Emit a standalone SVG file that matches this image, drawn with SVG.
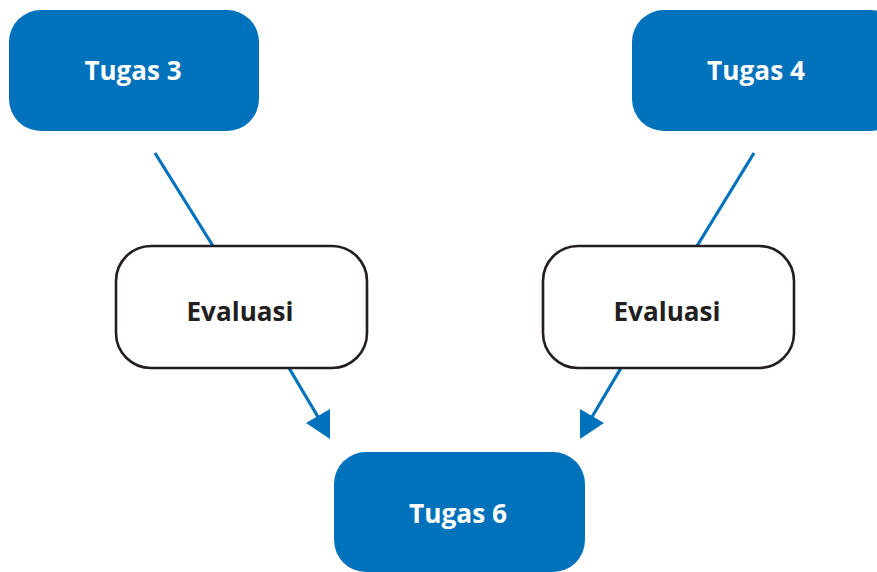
<svg xmlns="http://www.w3.org/2000/svg" width="877" height="572" viewBox="0 0 877 572">
<style>
.task{fill:#0071bb;}
.eval{fill:#ffffff;stroke:#231f20;stroke-width:2.6;}
.lt{font-family:"Open Sans","Liberation Sans",sans-serif;font-weight:bold;font-size:27.5px;text-anchor:middle;}
.w{fill:#ffffff;}
.k{fill:#231f20;}
.conn{stroke:#0071bb;stroke-width:3.2;fill:none;}
.head{fill:#0071bb;}
</style>
<rect width="877" height="572" fill="#ffffff"/>
<g id="connectors">
<line class="conn" x1="155" y1="153" x2="213" y2="246"/>
<line class="conn" x1="754" y1="153" x2="697" y2="246"/>
<line class="conn" x1="289" y1="368" x2="321" y2="422"/>
<polygon class="head" points="306,423 330,409 330,439"/>
<line class="conn" x1="621" y1="368" x2="589" y2="422"/>
<polygon class="head" points="604,423 580,409 580,439"/>
</g>
<g id="tugas3">
<rect class="task" x="9" y="10" width="250" height="121" rx="32"/>
<text class="lt w" x="133" y="80" textLength="97" lengthAdjust="spacingAndGlyphs">Tugas 3</text>
</g>
<g id="tugas4">
<rect class="task" x="632" y="10" width="270" height="121" rx="32"/>
<text class="lt w" x="756" y="80" textLength="98" lengthAdjust="spacingAndGlyphs">Tugas 4</text>
</g>
<g id="evaluasi1">
<rect class="eval" x="116" y="246" width="251" height="122" rx="35"/>
<text class="lt k" x="240" y="321" textLength="107" lengthAdjust="spacingAndGlyphs">Evaluasi</text>
</g>
<g id="evaluasi2">
<rect class="eval" x="543" y="246" width="251" height="122" rx="35"/>
<text class="lt k" x="667" y="321" textLength="107" lengthAdjust="spacingAndGlyphs">Evaluasi</text>
</g>
<g id="tugas6">
<rect class="task" x="334" y="452" width="251" height="120" rx="32"/>
<text class="lt w" x="458" y="523" textLength="98" lengthAdjust="spacingAndGlyphs">Tugas 6</text>
</g>
</svg>
